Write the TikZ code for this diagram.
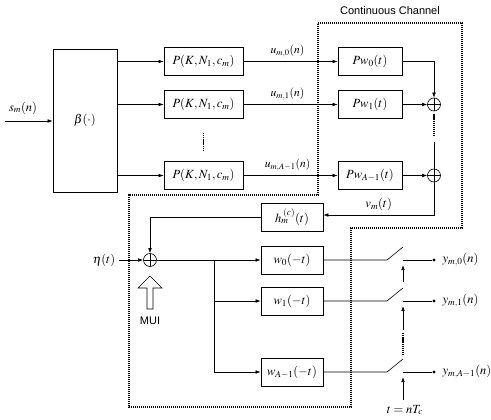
\documentclass[tikz,border=0pt]{standalone}
\usepackage{mathptmx}
\usepackage{fontspec}
\setmainfont{Liberation Serif}
\setsansfont{Liberation Sans}
\usetikzlibrary{arrows.meta}
\tikzset{
  x=1pt, y=-1pt,
  every node/.style={font=\fontsize{12.5}{14}\selectfont},
  blk/.style={draw, line width=0.7pt, minimum width=#1, minimum height=28pt, inner sep=0pt},
  blk/.default=62pt,
  ln/.style={line width=0.6pt},
  arr/.style={ln, -{Latex[length=5pt,width=3.6pt]}},
  sumnode/.style={draw, circle, line width=0.6pt, minimum size=13pt, inner sep=0pt,
    path picture={\draw[line width=0.6pt] (path picture bounding box.north) -- (path picture bounding box.south)
      (path picture bounding box.west) -- (path picture bounding box.east);}},
  chan/.style={line width=1.3pt, dash pattern=on 1.3pt off 0.7pt},
  vdots/.style={line width=1.3pt, dash pattern=on 1.3pt off 0.8pt},
  outdot/.style={circle, fill, minimum size=3.2pt, inner sep=0pt},
  sflab/.style={font=\sffamily\fontsize{11}{13}\selectfont},
  ulab/.style={above=1pt, xshift=-3pt, font=\fontsize{11.5}{13}\selectfont}
}
\begin{document}
\begin{tikzpicture}
\useasboundingbox (0,0) rectangle (491,420);
% channel boundary
\draw[chan] (318,23) -- (462,23) -- (462,228) -- (351,228) -- (351,407) -- (129,407) -- (129,195) -- (318,195) -- cycle;
\node[sflab] (cc) at (390,11) {Continuous Channel};

% transmitter
\node[blk=64pt, minimum height=143pt] (beta) at (85,120.5) {$\beta(\cdot)$};
\coordinate (sin) at (5,121);
\node (slab) at (23,108) {$s_m(n)$};
\draw[arr] (sin) -- (sin -| beta.west);

\node[blk=79pt] (P0) at (203.5,61.5) {$P(K,N_1,c_m)$};
\node[blk=79pt] (P1) at (203.5,104.5) {$P(K,N_1,c_m)$};
\node[blk=79pt] (P2) at (203.5,175.5) {$P(K,N_1,c_m)$};
\draw[arr] (beta.east |- P0) -- (P0);
\draw[arr] (beta.east |- P1) -- (P1);
\draw[arr] (beta.east |- P2) -- (P2);
\draw[vdots] (203.5,133) -- (203.5,151);

\node[blk=64pt] (W0) at (370,61.5) {$Pw_0(t)$};
\node[blk=64pt] (W1) at (370,104.5) {$Pw_1(t)$};
\node[blk=64pt] (W2) at (370,175.5) {$Pw_{A-1}(t)$};
\draw[arr] (P0) -- node[ulab] {$u_{m,0}(n)$} (W0);
\draw[arr] (P1) -- node[ulab] {$u_{m,1}(n)$} (W1);
\draw[arr] (P2) -- node[ulab] {$u_{m,A-1}(n)$} (W2);

\node[sumnode] (S1) at (434,104.5) {};
\node[sumnode] (S2) at (434,175.5) {};
\draw[arr] (W0.east) -- (W0.east -| S1) -- (S1.north);
\draw[arr] (W1) -- (S1);
\draw[arr] (W2) -- (S2);
\draw[vdots] (S1.south) ++(0,3) -- (434,136);
\coordinate (S2top) at (434,142);
\draw[ln] (S2top) -- (S2.north);

% channel output
\node[blk=62pt] (H) at (292,217) {$h_m^{\;(c)}(t)$};
\coordinate (vcorner) at (434,215);
\draw[arr] (S2.south) -- (vcorner) -- node[above=1pt] {$v_m(t)$} (vcorner -| H.east);

% receiver
\node[sumnode] (R) at (150,260) {};
\node (eta) at (104,260) {$\eta(t)$};
\draw[arr] (eta.east) -- (R.west);
\draw[arr] (H.west) -- (H.west -| R) -- (R.north);
\draw[ln, fill=white] (147,309) -- (147,288) -- (138,288) -- (150,276) -- (162,288) -- (153,288) -- (153,309) -- cycle;
\node[sflab] (mui) at (150,321) {MUI};

\node[blk=62pt] (F0) at (292,260) {$w_0(-t)$};
\node[blk=62pt] (F1) at (292,301) {$w_1(-t)$};
\node[blk=62pt] (F2) at (292,372) {$w_{A-1}(-t)$};
\coordinate (br) at (214,260);
\draw[ln] (R.east) -- (br);
\draw[arr] (br) -- (F0);
\draw[ln] (br) -- (br |- F2);
\draw[arr] (br |- F1) -- (F1);
\draw[arr] (br |- F2) -- (F2);

% samplers
\foreach \i/\yy in {0/260,1/301,2/372}{
  \coordinate (a\i) at (387,\yy);
  \coordinate (b\i) at (403,\yy-13);
  \coordinate (c\i) at (403,\yy);
  \node[outdot] (o\i) at (434,\yy) {};
}
\draw[ln] (F0.east) -- (a0) -- (b0);
\draw[ln] (F1.east) -- (a1) -- (b1);
\draw[ln] (F2.east) -- (a2) -- (b2);
\draw[ln] (c0) -- (o0);
\draw[ln] (c1) -- (o1);
\draw[ln] (c2) -- (o2);
\node[anchor=west] (y0) at (439,260) {$y_{m,0}(n)$};
\node[anchor=west] (y1) at (439,301) {$y_{m,1}(n)$};
\node[anchor=west] (y2) at (439,372) {$y_{m,A-1}(n)$};

\coordinate (t0) at (403,282);
\coordinate (t1) at (403,330);
\coordinate (t2) at (403,400);
\draw[arr] (t0) -- (403,265);
\draw[arr] (t1) -- (403,306);
\draw[vdots] (403,333) -- (403,355);
\draw[arr] (t2) -- (403,377);
\node (tn) at (405,410) {$t=nT_c$};
\end{tikzpicture}
\end{document}
